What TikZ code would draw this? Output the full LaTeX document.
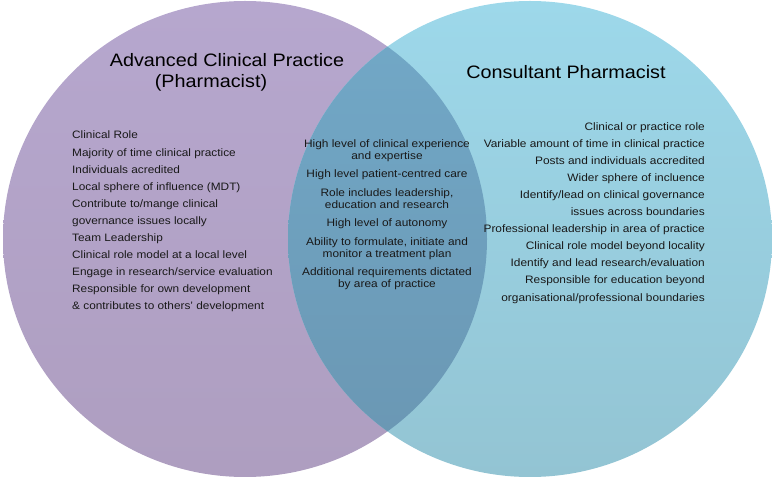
\documentclass[tikz,border=0pt]{standalone}
\usepackage{fontspec}
\setmainfont[FakeStretch=1.1]{Liberation Sans}
\usepackage{tikz}
\definecolor{acptop}{RGB}{182,167,206}
\definecolor{acpbot}{RGB}{174,158,192}
\definecolor{contop}{RGB}{157,216,234}
\definecolor{conbot}{RGB}{147,196,211}
\definecolor{bothtop}{RGB}{114,169,200}
\definecolor{bothbot}{RGB}{106,150,178}
\tikzset{
  listtext/.style={inner sep=0pt, text=black!90, font=\fontsize{10.75}{17.1}\selectfont},
  midtext/.style={inner sep=0pt, text=black!90, align=center, font=\fontsize{10.8}{12}\selectfont},
  headtext/.style={inner sep=0pt, text=black, font=\fontsize{18}{23}\selectfont}
}
\begin{document}
\begin{tikzpicture}[x=1pt, y=-1pt]
				\useasboundingbox (0,0) rectangle (772,494);
				\coordinate (L) at (245,239);
				\coordinate (R) at (530,239);
				\shade[top color=acptop, bottom color=acpbot] (L) ellipse [x radius=242pt, y radius=238pt];
				\shade[top color=contop, bottom color=conbot] (R) ellipse [x radius=242pt, y radius=238pt];
				\begin{scope}
				\clip (L) ellipse [x radius=242pt, y radius=238pt];
				\shade[top color=bothtop, bottom color=bothbot] (R) ellipse [x radius=242pt, y radius=238pt];
				\end{scope}
				\node[headtext] (acptitle) at (227,60) {Advanced Clinical Practice};
				\node[headtext] (acpsub) at (211,83) {(Pharmacist)};
				\node[headtext] (contitle) at (566,72) {Consultant Pharmacist};
				\node[listtext, align=left, anchor=north west] (acplist) at (72,131) {Clinical Role\\
					Majority of time clinical practice\\
					Individuals acredited\\
					Local sphere of influence (MDT)\\
					Contribute to/mange clinical\\
					governance issues locally\\
					Team Leadership\\
					Clinical role model at a local level\\
					Engage in research/service evaluation\\
					Responsible for own development\\
					\& contributes to others' development};
				\node[midtext, anchor=north] (bothlist) at (387,139) {High level of clinical experience\\ and expertise\\[6.5pt]
					High level patient-centred care\\[6.5pt]
					Role includes leadership,\\ education and research\\[6.5pt]
					High level of autonomy\\[6.5pt]
					Ability to formulate, initiate and\\ monitor a treatment plan\\[6.5pt]
					Additional requirements dictated\\ by area of practice};
				\node[listtext, font=\fontsize{10.8}{17.1}\selectfont, align=right, anchor=north east] (conlist) at (705,122) {Clinical or practice role\\
					Variable amount of time in clinical practice\\
					Posts and individuals accredited\\
					Wider sphere of incluence\\
					Identify/lead on clinical governance\\
					issues across boundaries\\
					Professional leadership in area of practice\\
					Clinical role model beyond locality\\
					Identify and lead research/evaluation\\
					Responsible for education beyond\\
					organisational/professional boundaries};
				\end{tikzpicture}
\end{document}
